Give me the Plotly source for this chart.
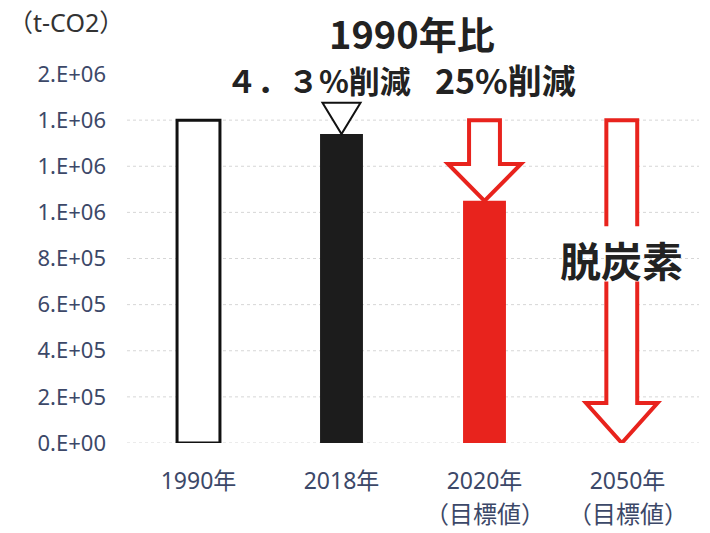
import plotly.graph_objects as go

# --- data -------------------------------------------------------------
categories = ["1990年", "2018年", "2020年", "2050年"]
sub_labels = ["", "", "（目標値）", "（目標値）"]
emissions = [1.40e6, 1.34e6, 1.05e6, 0.0]          # t-CO2
y_tick_vals = [0, 2e5, 4e5, 6e5, 8e5, 1.0e6, 1.2e6, 1.4e6, 1.6e6]
y_tick_text = ["0.E+00", "2.E+05", "4.E+05", "6.E+05", "8.E+05",
               "1.E+06", "1.E+06", "1.E+06", "2.E+06"]
bar_fill = ["#ffffff", "#1c1c1c", "#e8231d", "rgba(0,0,0,0)"]
bar_line = ["#111111", "#1c1c1c", "#e8231d", "rgba(0,0,0,0)"]

# --- layout geometry --------------------------------------------------
W, H = 710, 533
L, R, T, B = 127, 11, 74, 90
PW, PH = W - L - R, H - T - B
RED = "#e8231d"
TICK_COLOR = "#3c4868"


def px_x(px):
    return (px - L) / PW


def px_y(py):
    return (H - B - py) / PH


xs = list(range(len(categories)))

fig = go.Figure()
fig.add_trace(go.Bar(
    x=xs, y=emissions, width=0.3,
    marker=dict(color=bar_fill, line=dict(color=bar_line, width=[3, 0, 0, 0])),
    hoverinfo="skip", showlegend=False,
))

shapes = []
# dotted horizontal gridlines (top tick has no line)
for v in y_tick_vals[:-1]:
    shapes.append(dict(type="line", xref="paper", yref="y", x0=0, x1=1, y0=v, y1=v,
                       line=dict(color="#d6d6d6", width=1, dash="dot"), layer="below"))

base_level = emissions[0]

# open triangle marking the 2018 reduction
tri_c, tri_hw, tri_h = xs[1], 0.133, 0.135e6
tip = emissions[1]
shapes.append(dict(
    type="path", xref="x", yref="y",
    path=f"M {tri_c - tri_hw},{tip + tri_h} L {tri_c + tri_hw},{tip + tri_h} L {tri_c},{tip} Z",
    line=dict(color="#111111", width=2), fillcolor="#ffffff", layer="above"))

# hollow arrow down to the 2020 target
sw, hw, head = 0.108, 0.255, 0.16e6
c = xs[2]
top, tipy = base_level, emissions[2]
by = tipy + head
shapes.append(dict(
    type="path", xref="x", yref="y",
    path=(f"M {c - sw},{top} L {c - sw},{by} L {c - hw},{by} L {c},{tipy} "
          f"L {c + hw},{by} L {c + sw},{by} L {c + sw},{top} Z"),
    line=dict(color=RED, width=4), fillcolor="#ffffff", layer="above"))

# long hollow arrow down to zero for 2050, broken around its label
c = xs[3] - 0.04
hw2, head2 = 0.25, 0.173e6
top, tipy = base_level, emissions[3]
by = tipy + head2
gap_top, gap_bot = 0.94e6, 0.70e6
shapes.append(dict(
    type="path", xref="x", yref="y",
    path=(f"M {c - sw},{top} L {c - sw},{by} L {c - hw2},{by} L {c},{tipy} "
          f"L {c + hw2},{by} L {c + sw},{by} L {c + sw},{top} Z"),
    line=dict(width=0), fillcolor="#ffffff", layer="above"))
shapes.append(dict(
    type="path", xref="x", yref="y",
    path=f"M {c - sw},{gap_top} L {c - sw},{top} L {c + sw},{top} L {c + sw},{gap_top}",
    line=dict(color=RED, width=4), layer="above"))
shapes.append(dict(
    type="path", xref="x", yref="y",
    path=(f"M {c - sw},{gap_bot} L {c - sw},{by} L {c - hw2},{by} L {c},{tipy} "
          f"L {c + hw2},{by} L {c + sw},{by} L {c + sw},{gap_bot}"),
    line=dict(color=RED, width=4), layer="above"))

bold_font = dict(family="Noto Sans CJK JP", color="#222222")
annotations = [
    dict(text="（t-CO2）", xref="paper", yref="paper", x=px_x(6), y=px_y(22),
         xanchor="left", yanchor="middle", showarrow=False,
         font=dict(family="Noto Sans, Noto Sans CJK JP", size=25, color="#333333")),
    dict(text="<b>1990年比</b>", xref="paper", yref="paper", x=px_x(412), y=px_y(32),
         xanchor="center", yanchor="middle", showarrow=False,
         font=dict(size=38, **bold_font)),
    dict(text="<b>４．３%削減</b>", xref="paper", yref="paper", x=px_x(318), y=px_y(80),
         xanchor="center", yanchor="middle", showarrow=False,
         font=dict(size=31, **bold_font)),
    dict(text="<b>25%削減</b>", xref="paper", yref="paper", x=px_x(505), y=px_y(80),
         xanchor="center", yanchor="middle", showarrow=False,
         font=dict(size=34, **bold_font)),
    dict(text="<b>脱炭素</b>", xref="x", yref="y", x=c, y=0.80e6,
         xanchor="center", yanchor="middle", showarrow=False,
         font=dict(size=41, **bold_font)),
]
# second line of the category labels
for xi, sub in zip(xs, sub_labels):
    if sub:
        annotations.append(dict(
            text=sub, xref="x", yref="paper", x=xi, y=px_y(512),
            xanchor="center", yanchor="middle", showarrow=False,
            font=dict(family="Noto Sans CJK JP", size=24, color=TICK_COLOR)))

fig.update_layout(
    width=W, height=H,
    margin=dict(l=L, r=R, t=T, b=B, pad=0),
    paper_bgcolor="#ffffff", plot_bgcolor="#ffffff",
    shapes=shapes, annotations=annotations,
    xaxis=dict(range=[-0.5, 3.5], tickvals=xs, ticktext=categories,
               showgrid=False, zeroline=False, showline=False, ticks="",
               ticklabelstandoff=22,
               tickfont=dict(family="Noto Sans, Noto Sans CJK JP", size=23, color=TICK_COLOR)),
    yaxis=dict(range=[0, 1.6e6], tickvals=y_tick_vals, ticktext=y_tick_text,
               showgrid=False, zeroline=False, showline=False, ticks="",
               ticklabelstandoff=20,
               tickfont=dict(family="Noto Sans, Noto Sans CJK JP", size=22, color=TICK_COLOR)),
    bargap=0.7,
)

fig.write_html("out.html")
